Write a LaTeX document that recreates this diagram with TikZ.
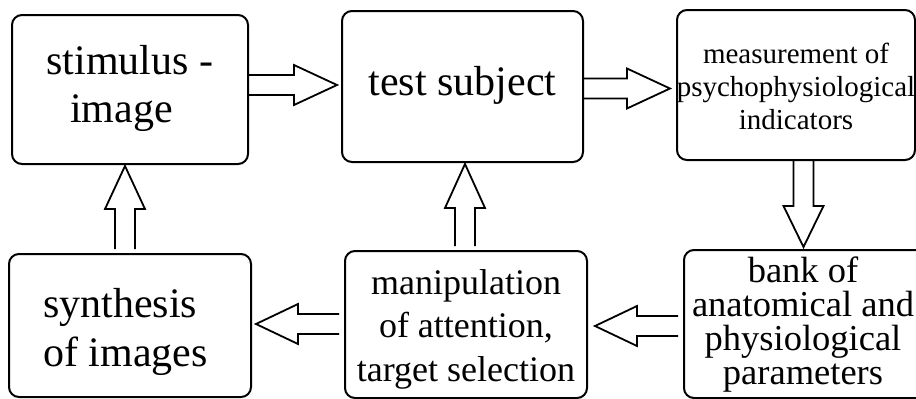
\documentclass[tikz,border=0pt]{standalone}
\usepackage{fontspec}
\setmainfont{Liberation Serif}
\usetikzlibrary{calc}
\tikzset{
  box/.style={draw, line width=2pt, rounded corners=10pt, rectangle, inner sep=0pt},
  lbl/.style={inner sep=0pt, align=center},
  blk/.style={draw, line width=1.8pt, line join=miter},
}
\newcommand\harrow[3]{\draw[blk] let \p1=(#1), \p2=(#2), \p3=($(#2)+(#3,0pt)$) in
  (\x1,\y1+10pt) -- (\x3,\y1+10pt) -- (\x3,\y1+20pt) -- (\x2,\y1) -- (\x3,\y1-20pt) -- (\x3,\y1-10pt) -- (\x1,\y1-10pt);}
\newcommand\varrow[3]{\draw[blk] let \p1=(#1), \p2=(#2), \p3=($(#2)+(0pt,#3)$) in
  (\x1+10pt,\y1) -- (\x1+10pt,\y3) -- (\x1+20pt,\y3) -- (\x1,\y2) -- (\x1-20pt,\y3) -- (\x1-10pt,\y3) -- (\x1-10pt,\y1);}
\begin{document}
\begin{tikzpicture}[x=1pt,y=-1pt]
\useasboundingbox (0,0) rectangle (916,399);
\fill[white] (0,0) rectangle (916,399);
% boxes
\node[box, minimum width=236pt, minimum height=149pt] (b1) at (130,89.5) {};
\node[box, minimum width=241pt, minimum height=151pt] (b2) at (462.5,86.5) {};
\node[box, minimum width=238pt, minimum height=150pt] (b3) at (796,85) {};
\node[box, minimum width=242pt, minimum height=143pt] (b4) at (130,325.5) {};
\node[box, minimum width=242pt, minimum height=147pt] (b5) at (466,324.5) {};
\node[box, minimum width=242pt, minimum height=148pt] (b6) at (805,324) {};
% texts
\node[lbl, font={\fontsize{42}{48}\selectfont}] (t1) at (130,88.2) {stimulus -\\image\hspace*{17pt}};
\node[lbl, font={\fontsize{42}{48}\selectfont}] (t2) at (462.5,85.2) {test subject};
\node[lbl, font={\fontsize{29}{33}\selectfont}] (t3) at (796,86.1) {measurement of\\psychophysiological\\indicators};
\node[lbl, align=left, anchor=west, font={\fontsize{42}{49}\selectfont}] (t4) at (43,331.7) {synthesis\\of images};
\node[lbl, font={\fontsize{36}{43.5}\selectfont}] (t5) at (466,329.1) {manipulation\\of attention,\\target selection};
\node[lbl, font={\fontsize{36.5}{34}\selectfont}] (t6) at (803,324.5) {bank of\\anatomical and\\physiological\\parameters};
% arrow end points
\coordinate (a1s) at (b1.east |- 0,85);
\coordinate (a1t) at ($(b2.west |- 0,85)+(-4,0)$);
\coordinate (a2s) at (b2.east |- 0,88.5);
\coordinate (a2t) at ($(b3.west |- 0,88.5)+(-6,0)$);
\coordinate (a3s) at (b3.south -| 803.5,0);
\coordinate (a3t) at ($(b6.north -| 803.5,0)+(0,-2)$);
\coordinate (a4s) at ($(b6.west |- 0,326)+(-5,0)$);
\coordinate (a4t) at ($(b5.east |- 0,326)+(7,0)$);
\coordinate (a5s) at ($(b5.west |- 0,324)+(-5,0)$);
\coordinate (a5t) at ($(b4.east |- 0,324)+(4,0)$);
\coordinate (a6s) at ($(b4.north -| 125,0)+(0,-4)$);
\coordinate (a6t) at ($(b1.south -| 125,0)+(0,1)$);
\coordinate (a7s) at ($(b5.north -| 465,0)+(0,-4)$);
\coordinate (a7t) at ($(b2.south -| 465,0)+(0,1)$);
% block arrows
\harrow{a1s}{a1t}{-43pt}
\harrow{a2s}{a2t}{-43pt}
\varrow{a3s}{a3t}{41pt}
\harrow{a4s}{a4t}{42pt}
\harrow{a5s}{a5t}{42pt}
\varrow{a6s}{a6t}{-43pt}
\varrow{a7s}{a7t}{-44pt}
\end{tikzpicture}
\end{document}
